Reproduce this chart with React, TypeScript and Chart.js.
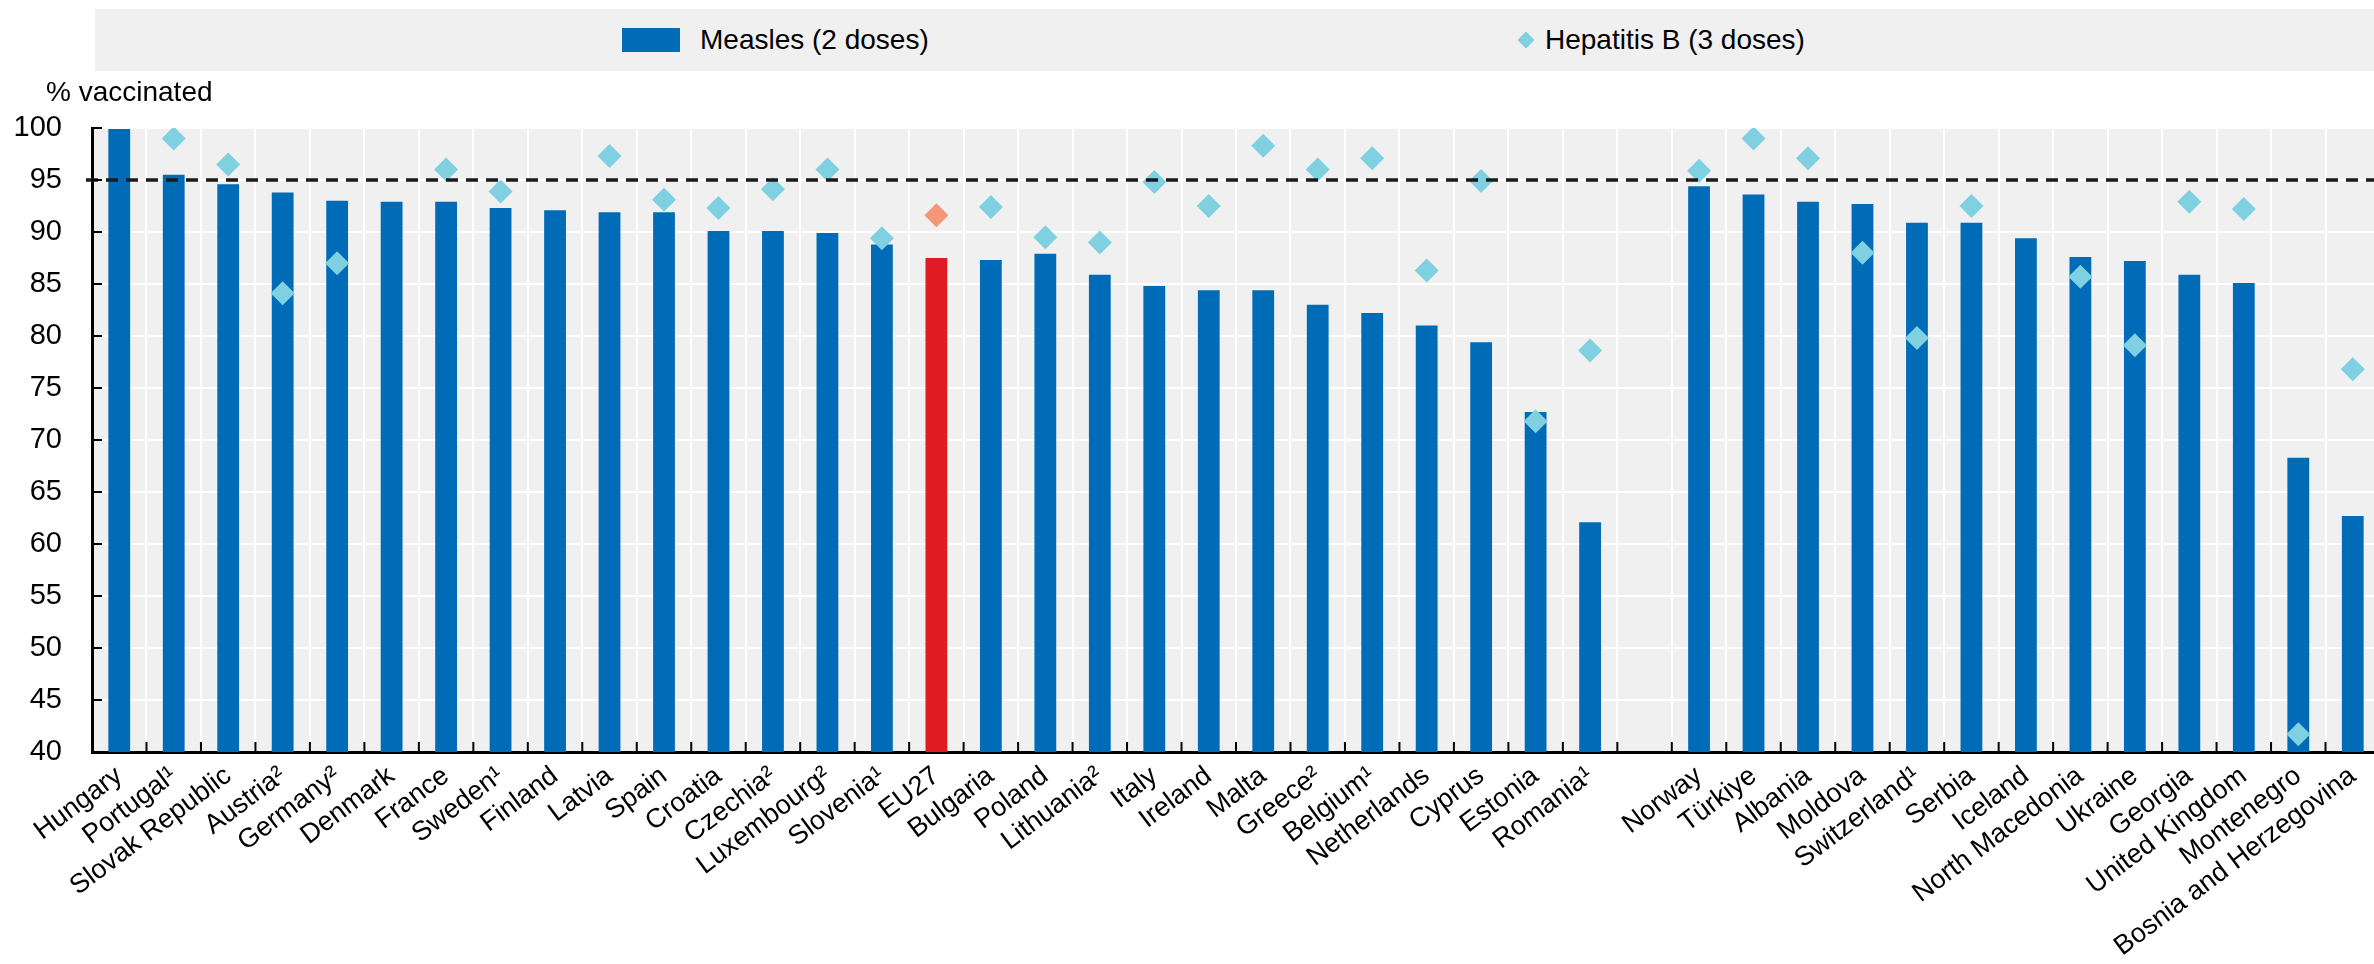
import React, { useEffect, useRef } from 'react';
import { Chart, registerables } from 'chart.js';

Chart.register(...registerables);

const categories: string[] = [
  'Hungary', 'Portugal¹', 'Slovak Republic', 'Austria²', 'Germany²', 'Denmark', 'France', 'Sweden¹',
  'Finland', 'Latvia', 'Spain', 'Croatia', 'Czechia²', 'Luxembourg²', 'Slovenia¹', 'EU27', 'Bulgaria',
  'Poland', 'Lithuania²', 'Italy', 'Ireland', 'Malta', 'Greece²', 'Belgium¹', 'Netherlands', 'Cyprus',
  'Estonia', 'Romania¹', '', 'Norway', 'Türkiye', 'Albania', 'Moldova', 'Switzerland¹', 'Serbia',
  'Iceland', 'North Macedonia', 'Ukraine', 'Georgia', 'United Kingdom', 'Montenegro', 'Bosnia and Herzegovina',
];

const measles: (number | null)[] = [
  99.9, 95.5, 94.6, 93.8, 93.0, 92.9, 92.9, 92.3, 92.1, 91.9, 91.9, 90.1, 90.1, 89.9, 88.8, 87.5, 87.3,
  87.9, 85.9, 84.8, 84.4, 84.4, 83.0, 82.2, 81.0, 79.4, 72.7, 62.1, null, 94.4, 93.6, 92.9, 92.7, 90.9,
  90.9, 89.4, 87.6, 87.2, 85.9, 85.1, 68.3, 62.7,
];

const hepatitisB: (number | null)[] = [
  null, 99.0, 96.5, 84.1, 87.0, null, 96.0, 93.9, null, 97.3, 93.1, 92.3, 94.1, 96.0, 89.4, 91.6, 92.4,
  89.5, 89.0, 94.8, 92.5, 98.3, 96.0, 97.1, 86.3, 94.9, 71.8, 78.6, null, 95.9, 99.0, 97.1, 88.0, 79.8,
  92.5, null, 85.7, 79.1, 92.9, 92.2, 41.7, 76.8,
];

const yTicks = { min: 40, max: 100, step: 5 };
const targetLine = 95;
const highlight = 'EU27';
const seriesNames = ['Measles (2 doses)', 'Hepatitis B (3 doses)'];
const yTitle = '% vaccinated';

const FONT = '"Liberation Sans", Arial, Helvetica, sans-serif';
const BLUE = '#006bb6';
const RED = '#e11b22';
const CYAN = '#7fd1e2';
const CORAL = '#f5967a';
const PANEL = '#f0f0f0';

const chartDecor = {
  id: 'chartDecor',
  beforeDraw(chart: any) {
    const { ctx, chartArea } = chart;
    ctx.save();
    ctx.fillStyle = PANEL;
    ctx.fillRect(chartArea.left, chartArea.top, chartArea.right - chartArea.left, chartArea.bottom - chartArea.top);
    ctx.restore();
  },
  afterDatasetsDraw(chart: any) {
    const { ctx, chartArea, scales } = chart;
    const y = scales.y.getPixelForValue(targetLine);
    ctx.save();
    ctx.strokeStyle = '#1a1a1a';
    ctx.lineWidth = 3.5;
    ctx.setLineDash([12, 8]);
    ctx.beginPath();
    ctx.moveTo(chartArea.left - 6, y);
    ctx.lineTo(chartArea.right, y);
    ctx.stroke();
    ctx.restore();
  },
  afterDraw(chart: any) {
    const { ctx, chartArea, scales } = chart;
    ctx.save();
    ctx.strokeStyle = '#000';
    ctx.lineWidth = 2;
    const tl = 10;
    for (let v = yTicks.min; v <= yTicks.max; v += yTicks.step) {
      const y = scales.y.getPixelForValue(v);
      ctx.beginPath();
      ctx.moveTo(chartArea.left, y);
      ctx.lineTo(chartArea.left + tl, y);
      ctx.stroke();
    }
    const xs = scales.x;
    const n = categories.length;
    const half = (xs.getPixelForValue(1) - xs.getPixelForValue(0)) / 2;
    for (let i = 0; i <= n; i++) {
      const x = i < n ? xs.getPixelForValue(i) - half : xs.getPixelForValue(n - 1) + half;
      ctx.beginPath();
      ctx.moveTo(x, chartArea.bottom);
      ctx.lineTo(x, chartArea.bottom - tl);
      ctx.stroke();
    }
    ctx.restore();
  },
};

export default function App() {
  const ref = useRef<HTMLCanvasElement>(null);

  useEffect(() => {
    if (!ref.current) return;
    const chart = new Chart(ref.current, {
      type: 'bar',
      data: {
        labels: categories,
        datasets: [
          {
            type: 'line',
            label: seriesNames[1],
            data: hepatitisB,
            showLine: false,
            pointStyle: 'rectRot',
            pointRadius: 12,
            pointHoverRadius: 12,
            pointBorderWidth: 0,
            borderColor: 'rgba(0,0,0,0)',
            pointBackgroundColor: categories.map((c) => (c === highlight ? CORAL : CYAN)),
            order: 0,
          } as any,
          {
            type: 'bar',
            label: seriesNames[0],
            data: measles,
            backgroundColor: categories.map((c) => (c === highlight ? RED : BLUE)),
            borderWidth: 0,
            barPercentage: 0.4,
            categoryPercentage: 1,
            order: 1,
          } as any,
        ],
      },
      options: {
        animation: false,
        responsive: false,
        maintainAspectRatio: false,
        layout: { autoPadding: false, padding: { top: 128, left: 0, right: 0, bottom: 0 } },
        plugins: {
          legend: { display: false },
          tooltip: { enabled: false },
        },
        scales: {
          x: {
            offset: true,
            z: 1,
            grid: { offset: true, color: '#ffffff', lineWidth: 2, drawTicks: false },
            border: { display: true, color: '#000', width: 3 },
            ticks: {
              autoSkip: false,
              minRotation: 37,
              maxRotation: 37,
              padding: 8,
              color: '#000',
              font: { family: FONT, size: 27 },
            },
            afterFit: (s: any) => { s.height = 212; s.paddingRight = 0; },
          },
          y: {
            min: yTicks.min,
            max: yTicks.max,
            grid: { color: '#ffffff', lineWidth: 2, drawTicks: false },
            border: { display: true, color: '#000', width: 3 },
            ticks: {
              stepSize: yTicks.step,
              padding: 30,
              color: '#000',
              font: { family: FONT, size: 29 },
            },
            afterFit: (s: any) => { s.width = 92; },
          },
        },
      } as any,
      plugins: [chartDecor],
    });
    return () => chart.destroy();
  }, []);

  return (
    <div style={{ position: 'absolute', left: 0, top: 0, width: 2374, height: 964, overflow: 'hidden', background: '#fff', fontFamily: FONT, color: '#000' }}>
      <canvas ref={ref} width={2380} height={964} style={{ position: 'absolute', left: 0, top: 0, width: 2380, height: 964 }} />
      <div style={{ position: 'absolute', left: 95, top: 9, width: 2279, height: 62, background: PANEL }} />
      <div style={{ position: 'absolute', left: 622, top: 28, width: 58, height: 24, background: BLUE }} />
      <div style={{ position: 'absolute', left: 700, top: 26, fontSize: 28, lineHeight: '28px', whiteSpace: 'nowrap' }}>{seriesNames[0]}</div>
      <div style={{ position: 'absolute', left: 1520, top: 34, width: 12, height: 12, background: CYAN, transform: 'rotate(45deg)' }} />
      <div style={{ position: 'absolute', left: 1545, top: 26, fontSize: 28, lineHeight: '28px', whiteSpace: 'nowrap' }}>{seriesNames[1]}</div>
      <div style={{ position: 'absolute', left: 46, top: 78, fontSize: 28, lineHeight: '28px', whiteSpace: 'nowrap' }}>{yTitle}</div>
    </div>
  );
}
